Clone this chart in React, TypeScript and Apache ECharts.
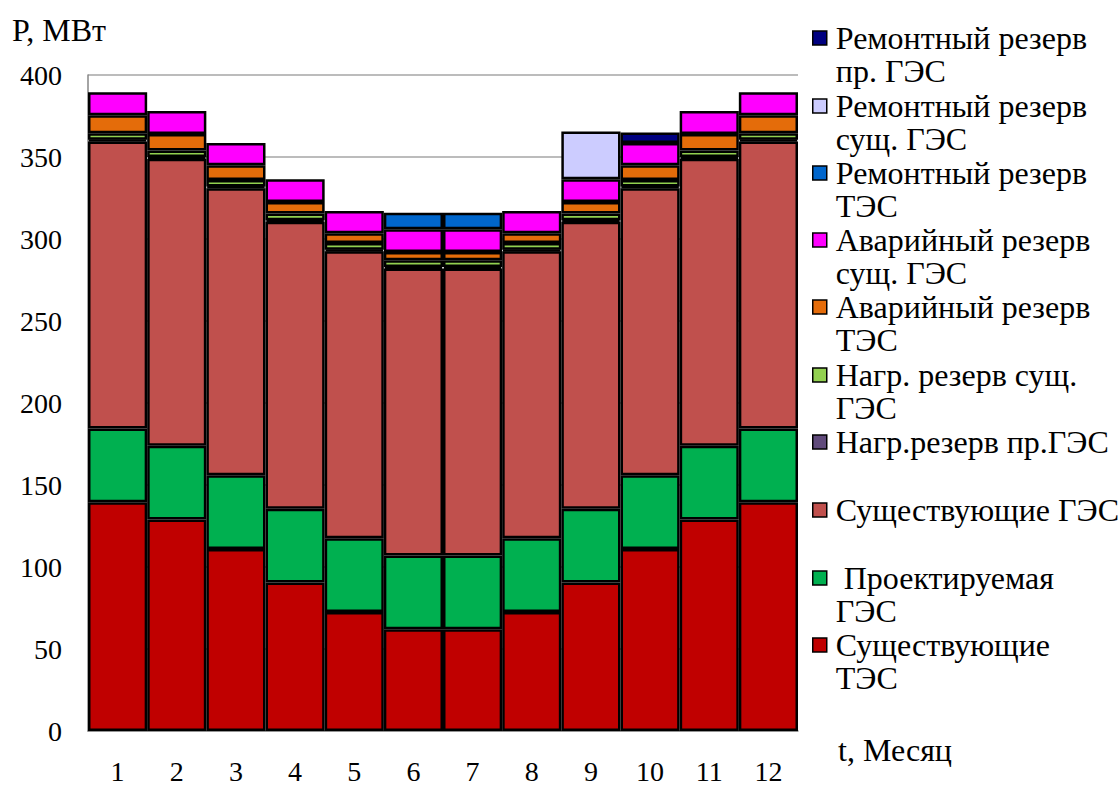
import { useEffect, useRef } from "react";
import * as echarts from "echarts";

// Months of the year
const months = ["1", "2", "3", "4", "5", "6", "7", "8", "9", "10", "11", "12"];

// Power balance components, MW
const existingTPP = [139.5, 129, 111, 90.5, 72.5, 62, 62, 72.5, 90.5, 111, 129, 139.5];
const plannedHPP = [45, 45, 45, 45, 45, 45, 45, 45, 45, 45, 45, 45];
const existingHPP = [175, 175, 175, 175, 175, 175, 175, 175, 175, 175, 175, 175];
const loadReservePlannedHPP = [1, 1, 1, 1, 1, 1, 1, 1, 1, 1, 1, 1];
const loadReserveExistingHPP = [4, 4, 4, 4, 4, 4, 4, 4, 4, 4, 4, 4];
const emergencyReserveTPP = [11, 10, 9, 7, 6, 5, 5, 6, 7, 9, 10, 11];
const emergencyReserveExistingHPP = [14, 14, 13.5, 14, 13.5, 14, 14, 13.5, 14, 13.5, 14, 14];
const repairReserveTPP = [0, 0, 0, 0, 0, 10, 10, 0, 0, 0, 0, 0];
const repairReserveExistingHPP = [0, 0, 0, 0, 0, 0, 0, 0, 29, 0, 0, 0];
const repairReservePlannedHPP = [0, 0, 0, 0, 0, 0, 0, 0, 0, 6.5, 0, 0];

// Y axis range
const yMin = 0;
const yMax = 400;
const yStep = 50;

const FONT = "Liberation Serif";
const TICK_SIZE = 28;
const TEXT_SIZE = 32;
const LINE_H = 33;
const ICON = 14;

// Square marker at the top of a taller box, so that it sits beside the first line
const TALL_ICON_H = ICON + LINE_H;
const tallIcon = `path://M0,0L${ICON},0L${ICON},${ICON}L0,${ICON}Z M0,${TALL_ICON_H}L0,${TALL_ICON_H}`;

type SeriesDef = {
  name: string;
  label: string;
  color: string;
  data: number[];
  iconY: number;
};

// Stacking order, bottom to top
const seriesDefs: SeriesDef[] = [
  { name: "Существующие ТЭС", label: "Существующие\nТЭС", color: "#C00000", data: existingTPP, iconY: 645 },
  { name: "Проектируемая ГЭС", label: " Проектируемая\nГЭС", color: "#00B050", data: plannedHPP, iconY: 578 },
  { name: "Существующие ГЭС", label: "Существующие ГЭС", color: "#C0504D", data: existingHPP, iconY: 510 },
  { name: "Нагр.резерв пр.ГЭС", label: "Нагр.резерв пр.ГЭС", color: "#604A7B", data: loadReservePlannedHPP, iconY: 442 },
  { name: "Нагр. резерв сущ. ГЭС", label: "Нагр. резерв сущ.\nГЭС", color: "#92D050", data: loadReserveExistingHPP, iconY: 375 },
  { name: "Аварийный резерв ТЭС", label: "Аварийный резерв\nТЭС", color: "#E46C0A", data: emergencyReserveTPP, iconY: 307 },
  { name: "Аварийный резерв сущ. ГЭС", label: "Аварийный резерв\nсущ. ГЭС", color: "#FF00FF", data: emergencyReserveExistingHPP, iconY: 240 },
  { name: "Ремонтный резерв ТЭС", label: "Ремонтный резерв\nТЭС", color: "#0066CC", data: repairReserveTPP, iconY: 173 },
  { name: "Ремонтный резерв сущ. ГЭС", label: "Ремонтный резерв\nсущ. ГЭС", color: "#CCCCFF", data: repairReserveExistingHPP, iconY: 106 },
  { name: "Ремонтный резерв пр. ГЭС", label: "Ремонтный резерв\nпр. ГЭС", color: "#000080", data: repairReservePlannedHPP, iconY: 38 },
];

export default function App() {
  const ref = useRef<HTMLDivElement>(null);

  useEffect(() => {
    if (!ref.current) return;
    const chart = echarts.init(ref.current, null, { renderer: "svg" });

    const legends = seriesDefs.map((d) => {
      const twoLines = d.label.includes("\n");
      return {
        data: [d.name],
        left: 812,
        top: d.iconY - LINE_H / 2,
        padding: 0,
        itemWidth: ICON,
        itemHeight: twoLines ? TALL_ICON_H : ICON,
        icon: twoLines ? tallIcon : "rect",
        selectedMode: false,
        formatter: () => d.label,
        itemStyle: { borderColor: "#000", borderWidth: 1.5 },
        textStyle: {
          fontFamily: FONT,
          fontSize: TEXT_SIZE,
          lineHeight: LINE_H,
          color: "#000",
          padding: [0, 0, 0, 4],
        },
      };
    });

    chart.setOption({
      animation: false,
      backgroundColor: "#fff",
      textStyle: { fontFamily: FONT },
      grid: { left: 88, right: 322, top: 75, bottom: 52 },
      legend: legends,
      xAxis: {
        type: "category",
        data: months,
        axisTick: { show: false },
        axisLine: { show: true, lineStyle: { color: "#868686", width: 1.5 } },
        axisLabel: { color: "#000", fontFamily: FONT, fontSize: TICK_SIZE, margin: 26 },
      },
      yAxis: {
        type: "value",
        min: yMin,
        max: yMax,
        interval: yStep,
        axisLine: { show: true, lineStyle: { color: "#868686", width: 1.5 } },
        axisTick: { show: false },
        splitLine: { show: true, lineStyle: { color: "#A6A6A6", width: 1.5 } },
        axisLabel: { color: "#000", fontFamily: FONT, fontSize: TICK_SIZE, margin: 26 },
      },
      graphic: [
        {
          type: "text",
          left: 12,
          top: 14,
          style: { text: "P, МВт", fontFamily: FONT, fontSize: TEXT_SIZE, fill: "#000" },
        },
        {
          type: "text",
          left: 838,
          top: 734,
          style: { text: "t, Месяц", fontFamily: FONT, fontSize: TEXT_SIZE, fill: "#000" },
        },
      ],
      series: seriesDefs.map((d) => ({
        name: d.name,
        type: "bar",
        stack: "total",
        barCategoryGap: "0%",
        itemStyle: { color: d.color, borderColor: "#000", borderWidth: 2.5 },
        emphasis: { disabled: true },
        data: d.data.map((v) => (v === 0 ? "-" : v)),
      })),
    });

    return () => chart.dispose();
  }, []);

  return (
    <div
      ref={ref}
      style={{ position: "fixed", left: 0, top: 0, width: 1120, height: 785 }}
    />
  );
}
